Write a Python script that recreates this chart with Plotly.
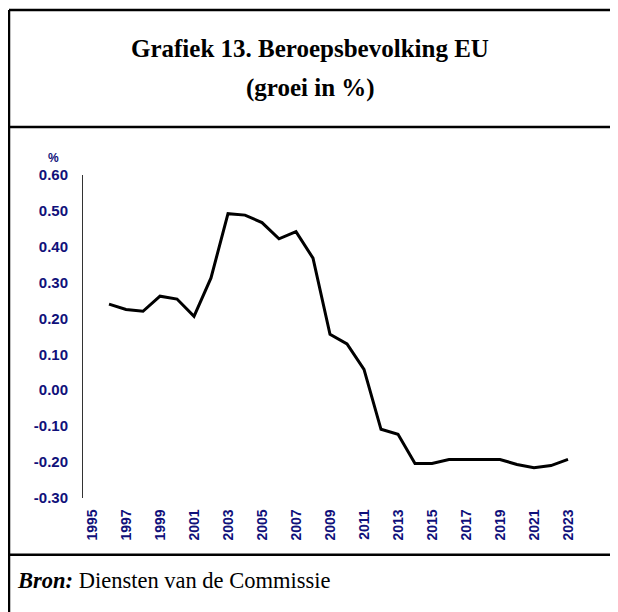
import plotly.graph_objects as go

years = list(range(1996, 2024))
growth = [0.24, 0.225, 0.22, 0.262, 0.254, 0.206, 0.313, 0.492, 0.488, 0.467,
          0.422, 0.442, 0.368, 0.156, 0.129, 0.058, -0.109, -0.123, -0.204, -0.204,
          -0.193, -0.193, -0.195, -0.193, -0.207, -0.216, -0.21, -0.193]
tick_years = list(range(1995, 2024, 2))
y_ticks = [0.6, 0.5, 0.4, 0.3, 0.2, 0.1, 0.0, -0.1, -0.2, -0.3]

# page offset of the figure div, and the vertical squeeze seen in the photo
OFF_X = 8
OFF_Y, SQ = 16.5, 0.9725
W, H = 602, 613


def px(x):
    return (x - OFF_X) / W


def py(y):
    return 1 - (y / SQ - OFF_Y) / H


navy = '#10107a'

fig = go.Figure(go.Scatter(
    x=years, y=growth, mode='lines',
    line=dict(color='black', width=3),
    hoverinfo='skip',
))

fig.update_layout(
    width=W, height=H,
    margin=dict(l=0, r=0, t=0, b=0),
    paper_bgcolor='white',
    plot_bgcolor='white',
    showlegend=False,
    xaxis=dict(
        domain=[px(83), px(577)],
        range=[1994.47, 2023.53],
        tickvals=tick_years,
        ticktext=['<b>%d</b>' % y for y in tick_years],
        tickangle=-90,
        tickfont=dict(family='Liberation Sans Narrow, Arial Narrow, Arial', size=14, color=navy),
        showgrid=False, zeroline=False, showline=False,
        ticks='outside', ticklen=5, tickcolor='white',
    ),
    yaxis=dict(
        domain=[py(497), py(174)],
        range=[-0.30, 0.60],
        tickvals=y_ticks,
        ticktext=['<b>%.2f</b>' % v for v in y_ticks],
        tickfont=dict(family='Liberation Sans, Arial', size=15, color=navy),
        showgrid=False, zeroline=False,
        showline=True, linecolor='#333', linewidth=1,
        ticks='outside', ticklen=11, tickcolor='white',
    ),
    font=dict(family='Liberation Serif'),
)

# frame lines around the chart box
frame = [
    (9, 9, 9, 640),      # left
    (9, 9, 640, 9),      # top
    (9, 126, 640, 126),  # under title
    (9, 554, 640, 554),  # above source
]
for x0, y0, x1, y1 in frame:
    fig.add_shape(type='line', xref='paper', yref='paper',
                  x0=px(x0), y0=py(y0), x1=px(x1), y1=py(y1),
                  line=dict(color='black', width=2.5))

fig.add_annotation(x=px(310), y=py(48), xref='paper', yref='paper',
                   xanchor='center', yanchor='middle',
                   text='<b>Grafiek 13. Beroepsbevolking EU</b>', showarrow=False,
                   font=dict(family='Liberation Serif', size=25, color='black'))
fig.add_annotation(x=px(310), y=py(87), xref='paper', yref='paper',
                   xanchor='center', yanchor='middle',
                   text='<b>(groei in %)</b>', showarrow=False,
                   font=dict(family='Liberation Serif', size=25, color='black'))
fig.add_annotation(x=px(53), y=py(157), xref='paper', yref='paper',
                   xanchor='center', yanchor='middle',
                   text='<b>%</b>', showarrow=False,
                   font=dict(family='Liberation Sans, Arial', size=12, color=navy))
fig.add_annotation(x=px(15), y=py(580), xref='paper', yref='paper',
                   xanchor='left', yanchor='middle',
                   text='<b><i>Bron:</i></b> Diensten van de Commissie', showarrow=False,
                   font=dict(family='Liberation Serif', size=22.5, color='black'))

fig.write_html("out.html")
